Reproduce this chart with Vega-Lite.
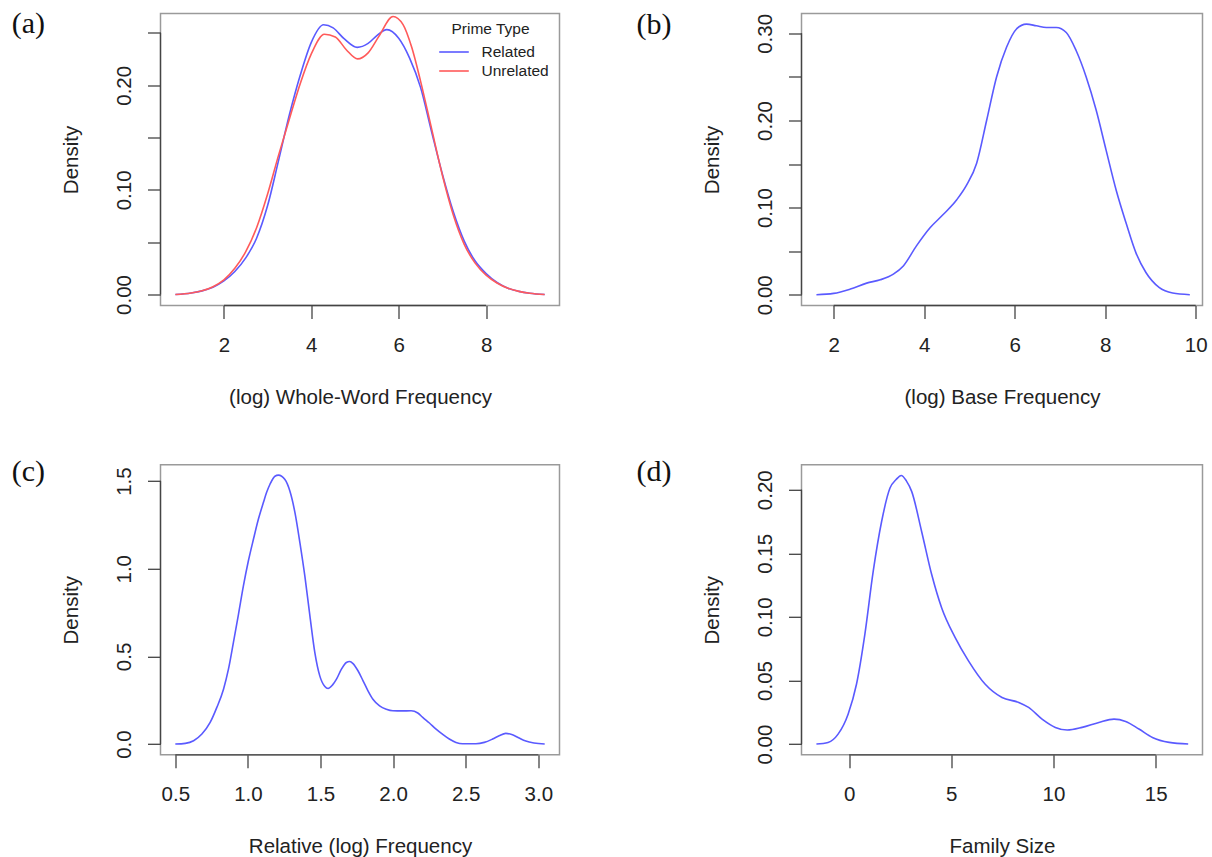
{
  "$schema": "https://vega.github.io/schema/vega-lite/v6.json",
  "padding": {"left": 10.5, "top": 7.5, "right": 2, "bottom": 0},
  "background": "white",
  "config": {
    "view": {"stroke": "#9a9a9a", "strokeWidth": 1.5},
    "axis": {
      "domain": false, "grid": false, "ticks": true, "tickSize": 13, "tickColor": "#444", "tickWidth": 1.3,
      "labelFont": "Liberation Sans", "labelFontSize": 20.5, "labelColor": "#222", "labelPadding": 17,
      "labelFlush": false, "labelOverlap": false,
      "titleFont": "Liberation Sans", "titleFontSize": 20.5, "titleFontWeight": "normal", "titleColor": "#222"
    },
    "axisX": {"minExtent": 51, "maxExtent": 51, "titlePadding": 46.7, "titleBaseline": "alphabetic"},
    "axisY": {"minExtent": 46, "maxExtent": 46, "titlePadding": 37, "titleBaseline": "alphabetic",
              "labelAngle": 270, "labelAlign": "center", "labelBaseline": "alphabetic"},
    "title": {"font": "Liberation Serif", "fontSize": 30, "fontWeight": "normal", "color": "#111",
              "anchor": "start", "frame": "group", "orient": "top", "baseline": "alphabetic", "align": "left"},
    "line": {"strokeWidth": 1.6, "interpolate": "monotone"},
    "rule": {"color": "#444", "strokeWidth": 1.3}
  },
  "datasets": {
    "wholeword": [
      {"x": 0.89, "density": 0, "prime": "Related"},
      {"x": 1.25, "density": 0.0015, "prime": "Related"},
      {"x": 1.5, "density": 0.0035, "prime": "Related"},
      {"x": 1.75, "density": 0.007, "prime": "Related"},
      {"x": 2.0, "density": 0.013, "prime": "Related"},
      {"x": 2.25, "density": 0.022, "prime": "Related"},
      {"x": 2.5, "density": 0.035, "prime": "Related"},
      {"x": 2.75, "density": 0.054, "prime": "Related"},
      {"x": 3.0, "density": 0.085, "prime": "Related"},
      {"x": 3.25, "density": 0.128, "prime": "Related"},
      {"x": 3.5, "density": 0.172, "prime": "Related"},
      {"x": 3.75, "density": 0.21, "prime": "Related"},
      {"x": 4.0, "density": 0.241, "prime": "Related"},
      {"x": 4.28, "density": 0.2578, "prime": "Related"},
      {"x": 4.5, "density": 0.2548, "prime": "Related"},
      {"x": 4.75, "density": 0.2445, "prime": "Related"},
      {"x": 5.05, "density": 0.2362, "prime": "Related"},
      {"x": 5.3, "density": 0.24, "prime": "Related"},
      {"x": 5.5, "density": 0.2475, "prime": "Related"},
      {"x": 5.73, "density": 0.2532, "prime": "Related"},
      {"x": 6.0, "density": 0.245, "prime": "Related"},
      {"x": 6.25, "density": 0.226, "prime": "Related"},
      {"x": 6.5, "density": 0.198, "prime": "Related"},
      {"x": 6.75, "density": 0.156, "prime": "Related"},
      {"x": 7.0, "density": 0.115, "prime": "Related"},
      {"x": 7.25, "density": 0.079, "prime": "Related"},
      {"x": 7.5, "density": 0.051, "prime": "Related"},
      {"x": 7.75, "density": 0.032, "prime": "Related"},
      {"x": 8.0, "density": 0.02, "prime": "Related"},
      {"x": 8.25, "density": 0.0115, "prime": "Related"},
      {"x": 8.5, "density": 0.006, "prime": "Related"},
      {"x": 8.75, "density": 0.003, "prime": "Related"},
      {"x": 9.0, "density": 0.0012, "prime": "Related"},
      {"x": 9.34, "density": 0, "prime": "Related"},
      {"x": 0.89, "density": 0, "prime": "Unrelated"},
      {"x": 1.25, "density": 0.0015, "prime": "Unrelated"},
      {"x": 1.5, "density": 0.0035, "prime": "Unrelated"},
      {"x": 1.75, "density": 0.0075, "prime": "Unrelated"},
      {"x": 2.0, "density": 0.014, "prime": "Unrelated"},
      {"x": 2.25, "density": 0.025, "prime": "Unrelated"},
      {"x": 2.5, "density": 0.041, "prime": "Unrelated"},
      {"x": 2.75, "density": 0.064, "prime": "Unrelated"},
      {"x": 3.0, "density": 0.096, "prime": "Unrelated"},
      {"x": 3.25, "density": 0.133, "prime": "Unrelated"},
      {"x": 3.5, "density": 0.168, "prime": "Unrelated"},
      {"x": 3.75, "density": 0.202, "prime": "Unrelated"},
      {"x": 4.0, "density": 0.23, "prime": "Unrelated"},
      {"x": 4.3, "density": 0.2488, "prime": "Unrelated"},
      {"x": 4.55, "density": 0.2462, "prime": "Unrelated"},
      {"x": 4.8, "density": 0.234, "prime": "Unrelated"},
      {"x": 5.06, "density": 0.2252, "prime": "Unrelated"},
      {"x": 5.3, "density": 0.231, "prime": "Unrelated"},
      {"x": 5.55, "density": 0.247, "prime": "Unrelated"},
      {"x": 5.87, "density": 0.2658, "prime": "Unrelated"},
      {"x": 6.1, "density": 0.258, "prime": "Unrelated"},
      {"x": 6.3, "density": 0.236, "prime": "Unrelated"},
      {"x": 6.5, "density": 0.204, "prime": "Unrelated"},
      {"x": 6.75, "density": 0.159, "prime": "Unrelated"},
      {"x": 7.0, "density": 0.114, "prime": "Unrelated"},
      {"x": 7.25, "density": 0.076, "prime": "Unrelated"},
      {"x": 7.5, "density": 0.048, "prime": "Unrelated"},
      {"x": 7.75, "density": 0.03, "prime": "Unrelated"},
      {"x": 8.0, "density": 0.0185, "prime": "Unrelated"},
      {"x": 8.25, "density": 0.011, "prime": "Unrelated"},
      {"x": 8.5, "density": 0.006, "prime": "Unrelated"},
      {"x": 8.75, "density": 0.003, "prime": "Unrelated"},
      {"x": 9.0, "density": 0.0012, "prime": "Unrelated"},
      {"x": 9.34, "density": 0, "prime": "Unrelated"}
    ],
    "base": [
      {"x": 1.62, "density": 0}, {"x": 2.0, "density": 0.0015}, {"x": 2.37, "density": 0.0065},
      {"x": 2.73, "density": 0.0133}, {"x": 3.03, "density": 0.0171}, {"x": 3.32, "density": 0.0236},
      {"x": 3.54, "density": 0.033}, {"x": 3.83, "density": 0.056}, {"x": 4.13, "density": 0.0768},
      {"x": 4.42, "density": 0.092}, {"x": 4.72, "density": 0.109}, {"x": 4.94, "density": 0.126},
      {"x": 5.16, "density": 0.151}, {"x": 5.38, "density": 0.2}, {"x": 5.6, "density": 0.25},
      {"x": 5.82, "density": 0.284}, {"x": 6.04, "density": 0.305}, {"x": 6.26, "density": 0.3106},
      {"x": 6.48, "density": 0.3087}, {"x": 6.7, "density": 0.3068}, {"x": 6.92, "density": 0.3068},
      {"x": 7.14, "density": 0.301}, {"x": 7.36, "density": 0.28}, {"x": 7.58, "density": 0.25},
      {"x": 7.8, "density": 0.212}, {"x": 8.02, "density": 0.166}, {"x": 8.24, "density": 0.1205},
      {"x": 8.46, "density": 0.0825}, {"x": 8.68, "density": 0.048}, {"x": 8.9, "density": 0.0255},
      {"x": 9.19, "density": 0.0084}, {"x": 9.49, "density": 0.0019}, {"x": 9.87, "density": 0}
    ],
    "relative": [
      {"x": 0.5, "density": 0}, {"x": 0.569, "density": 0.004}, {"x": 0.626, "density": 0.019},
      {"x": 0.683, "density": 0.057}, {"x": 0.74, "density": 0.123}, {"x": 0.786, "density": 0.209},
      {"x": 0.832, "density": 0.313}, {"x": 0.866, "density": 0.427}, {"x": 0.9, "density": 0.579},
      {"x": 0.935, "density": 0.74}, {"x": 0.969, "density": 0.902}, {"x": 1.003, "density": 1.044},
      {"x": 1.038, "density": 1.168}, {"x": 1.072, "density": 1.282}, {"x": 1.106, "density": 1.376},
      {"x": 1.129, "density": 1.436}, {"x": 1.152, "density": 1.482}, {"x": 1.186, "density": 1.528},
      {"x": 1.21, "density": 1.534}, {"x": 1.255, "density": 1.509}, {"x": 1.289, "density": 1.443},
      {"x": 1.324, "density": 1.32}, {"x": 1.358, "density": 1.149}, {"x": 1.392, "density": 0.959},
      {"x": 1.427, "density": 0.731}, {"x": 1.461, "density": 0.522}, {"x": 1.495, "density": 0.389},
      {"x": 1.53, "density": 0.328}, {"x": 1.552, "density": 0.317}, {"x": 1.582, "density": 0.336},
      {"x": 1.61, "density": 0.37}, {"x": 1.644, "density": 0.427}, {"x": 1.678, "density": 0.465},
      {"x": 1.701, "density": 0.471}, {"x": 1.724, "density": 0.459}, {"x": 1.758, "density": 0.418},
      {"x": 1.793, "density": 0.361}, {"x": 1.827, "density": 0.304}, {"x": 1.861, "density": 0.256},
      {"x": 1.907, "density": 0.218}, {"x": 1.953, "density": 0.199}, {"x": 1.998, "density": 0.19},
      {"x": 2.06, "density": 0.189}, {"x": 2.124, "density": 0.19}, {"x": 2.17, "density": 0.177},
      {"x": 2.204, "density": 0.152}, {"x": 2.25, "density": 0.12}, {"x": 2.296, "density": 0.0854},
      {"x": 2.342, "density": 0.055}, {"x": 2.387, "density": 0.0285}, {"x": 2.433, "density": 0.0095},
      {"x": 2.479, "density": 0.002}, {"x": 2.57, "density": 0.002}, {"x": 2.628, "density": 0.0095},
      {"x": 2.685, "density": 0.0285}, {"x": 2.73, "density": 0.047}, {"x": 2.776, "density": 0.061},
      {"x": 2.822, "density": 0.053}, {"x": 2.868, "density": 0.034}, {"x": 2.914, "density": 0.017},
      {"x": 2.97, "density": 0.006}, {"x": 3.044, "density": 0}
    ],
    "family": [
      {"x": -1.6, "density": 0}, {"x": -1.03, "density": 0.0013}, {"x": -0.54, "density": 0.0078},
      {"x": -0.05, "density": 0.0235}, {"x": 0.36, "density": 0.047}, {"x": 0.77, "density": 0.0863},
      {"x": 1.18, "density": 0.136}, {"x": 1.59, "density": 0.175}, {"x": 2.0, "density": 0.2013},
      {"x": 2.3, "density": 0.208}, {"x": 2.55, "density": 0.2112}, {"x": 2.8, "density": 0.207},
      {"x": 3.06, "density": 0.1987}, {"x": 3.55, "density": 0.167}, {"x": 4.04, "density": 0.1333},
      {"x": 4.53, "density": 0.107}, {"x": 5.19, "density": 0.0837}, {"x": 5.84, "density": 0.0654},
      {"x": 6.66, "density": 0.047}, {"x": 7.48, "density": 0.0366}, {"x": 8.3, "density": 0.0327},
      {"x": 8.78, "density": 0.0288}, {"x": 9.44, "density": 0.0196}, {"x": 10.09, "density": 0.0131},
      {"x": 10.67, "density": 0.011}, {"x": 11.4, "density": 0.0131}, {"x": 12.22, "density": 0.017},
      {"x": 12.96, "density": 0.0196}, {"x": 13.53, "density": 0.0178}, {"x": 14.18, "density": 0.0118},
      {"x": 14.84, "density": 0.0052}, {"x": 15.66, "density": 0.0013}, {"x": 16.59, "density": 0}
    ]
  },
  "columns": 2,
  "bounds": "flush",
  "spacing": {"row": 159.3, "column": 242},
  "concat": [
    {
      "width": 399, "height": 292,
      "title": {"text": "(a)", "dx": -148.8, "offset": -25.8},
      "data": {"name": "wholeword"},
      "layer": [
        {
          "mark": "line",
          "encoding": {
            "x": {"field": "x", "type": "quantitative", "scale": {"domain": [0.549, 9.68], "nice": false, "zero": false},
                  "axis": {"title": "(log) Whole-Word Frequency", "values": [2, 4, 6, 8], "format": "d"}},
            "y": {"field": "density", "type": "quantitative", "scale": {"domain": [-0.0105, 0.2686], "nice": false, "zero": false},
                  "axis": {"title": "Density", "values": [0, 0.05, 0.1, 0.15, 0.2, 0.25],
                           "labelExpr": "abs(datum.value*100 % 10) < 0.5 ? format(datum.value, '.2f') : ''"}},
            "color": {"field": "prime", "type": "nominal",
                      "scale": {"domain": ["Related", "Unrelated"], "range": ["#5a5aff", "#ff5a5a"]},
                      "legend": {"title": "Prime Type", "orient": "none", "legendX": 291, "legendY": 8.5, "direction": "vertical",
                                 "symbolType": "M-2,0H2", "symbolSize": 219, "symbolStrokeWidth": 1.6, "symbolOffset": -6,
                                 "labelFont": "Liberation Sans", "labelFontSize": 15.5, "labelColor": "#222", "labelOffset": 19,
                                 "titleFont": "Liberation Sans", "titleFontSize": 15.5, "titleFontWeight": "normal", "titleColor": "#222",
                                 "titlePadding": 6, "titleAnchor": "start", "titleAlign": "left", "rowPadding": 2, "padding": 0}}
          }
        },
        {"data": {"values": [{}]}, "mark": "rule",
         "encoding": {"x": {"datum": 2}, "x2": {"datum": 8}, "y": {"datum": -0.0105}}},
        {"data": {"values": [{}]}, "mark": "rule",
         "encoding": {"x": {"datum": 0.549}, "y": {"datum": 0}, "y2": {"datum": 0.25}}}
      ]
    },
    {
      "width": 401, "height": 292,
      "title": {"text": "(b)", "dx": -164.9, "offset": -26.2},
      "data": {"name": "base"},
      "layer": [
        {
          "mark": {"type": "line", "color": "#5a5aff"},
          "encoding": {
            "x": {"field": "x", "type": "quantitative", "scale": {"domain": [1.29, 10.15], "nice": false, "zero": false},
                  "axis": {"title": "(log) Base Frequency", "values": [2, 4, 6, 8, 10], "format": "d"}},
            "y": {"field": "density", "type": "quantitative", "scale": {"domain": [-0.0124, 0.3228], "nice": false, "zero": false},
                  "axis": {"title": "Density", "values": [0, 0.05, 0.1, 0.15, 0.2, 0.25, 0.3],
                           "labelExpr": "abs(datum.value*100 % 10) < 0.5 ? format(datum.value, '.2f') : ''"}}
          }
        },
        {"data": {"values": [{}]}, "mark": "rule",
         "encoding": {"x": {"datum": 2}, "x2": {"datum": 10}, "y": {"datum": -0.0124}}},
        {"data": {"values": [{}]}, "mark": "rule",
         "encoding": {"x": {"datum": 1.29}, "y": {"datum": 0}, "y2": {"datum": 0.3}}}
      ]
    },
    {
      "width": 399, "height": 290,
      "title": {"text": "(c)", "dx": -148.8, "offset": -22.6},
      "data": {"name": "relative"},
      "layer": [
        {
          "mark": {"type": "line", "color": "#5a5aff"},
          "encoding": {
            "x": {"field": "x", "type": "quantitative", "scale": {"domain": [0.398, 3.146], "nice": false, "zero": false},
                  "axis": {"title": "Relative (log) Frequency", "values": [0.5, 1, 1.5, 2, 2.5, 3], "format": ".1f"}},
            "y": {"field": "density", "type": "quantitative", "scale": {"domain": [-0.0613, 1.593], "nice": false, "zero": false},
                  "axis": {"title": "Density", "values": [0, 0.5, 1, 1.5], "format": ".1f"}}
          }
        },
        {"data": {"values": [{}]}, "mark": "rule",
         "encoding": {"x": {"datum": 0.5}, "x2": {"datum": 3}, "y": {"datum": -0.0613}}},
        {"data": {"values": [{}]}, "mark": "rule",
         "encoding": {"x": {"datum": 0.398}, "y": {"datum": 0}, "y2": {"datum": 1.5}}}
      ]
    },
    {
      "width": 401, "height": 290,
      "title": {"text": "(d)", "dx": -164.9, "offset": -22.6},
      "data": {"name": "family"},
      "layer": [
        {
          "mark": {"type": "line", "color": "#5a5aff"},
          "encoding": {
            "x": {"field": "x", "type": "quantitative", "scale": {"domain": [-2.33, 17.29], "nice": false, "zero": false},
                  "axis": {"title": "Family Size", "values": [0, 5, 10, 15], "format": "d"}},
            "y": {"field": "density", "type": "quantitative", "scale": {"domain": [-0.00845, 0.2196], "nice": false, "zero": false},
                  "axis": {"title": "Density", "values": [0, 0.05, 0.1, 0.15, 0.2], "format": ".2f"}}
          }
        },
        {"data": {"values": [{}]}, "mark": "rule",
         "encoding": {"x": {"datum": 0}, "x2": {"datum": 15}, "y": {"datum": -0.00845}}},
        {"data": {"values": [{}]}, "mark": "rule",
         "encoding": {"x": {"datum": -2.33}, "y": {"datum": 0}, "y2": {"datum": 0.2}}}
      ]
    }
  ]
}
